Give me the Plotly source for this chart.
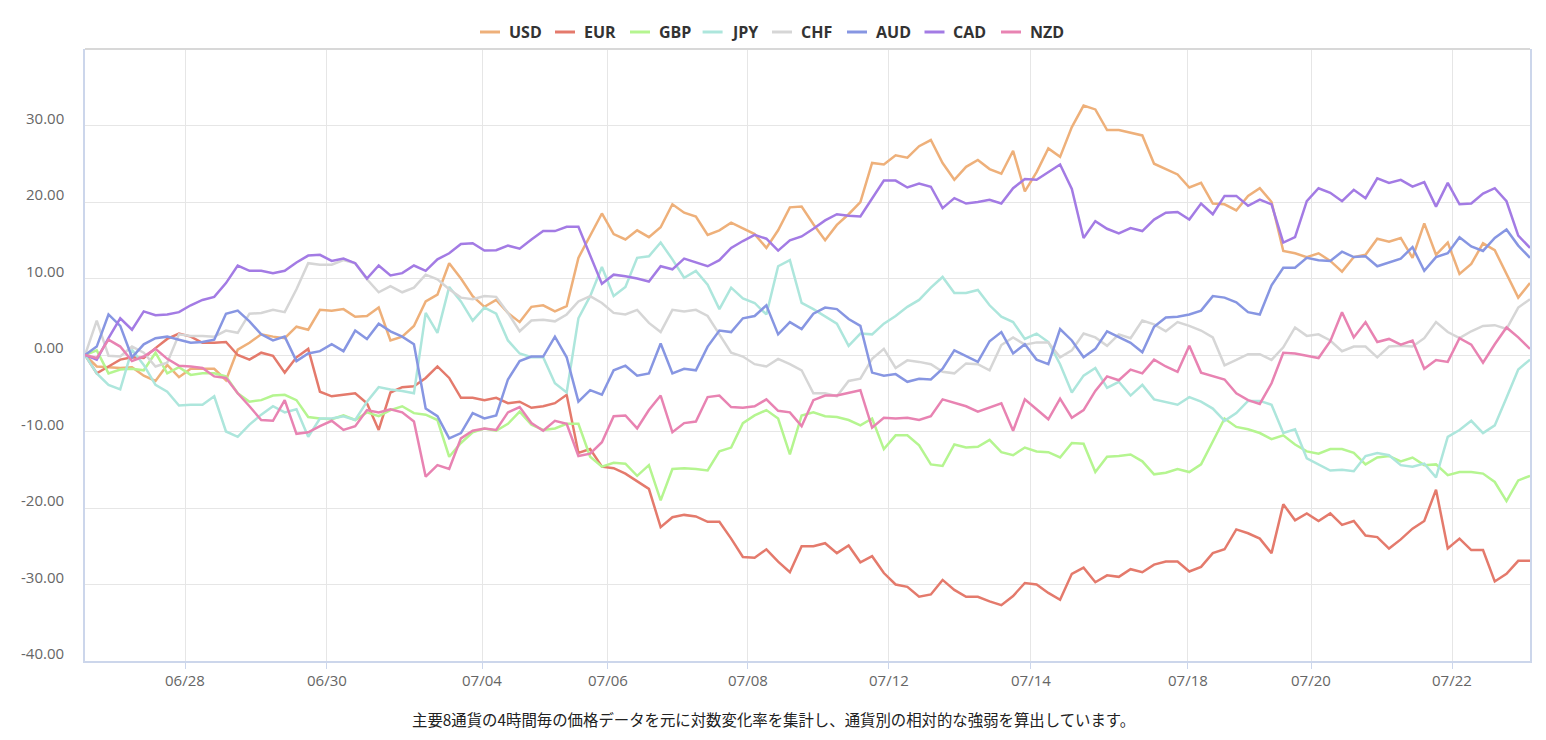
import plotly.graph_objects as go

# ---------------- data (4-hourly currency strength index) ----------------
currencies = ["USD", "EUR", "GBP", "JPY", "CHF", "AUD", "CAD", "NZD"]
colors = ["#EEB07A", "#E47A6C", "#B5F590", "#ADE6DC", "#D6D6D6", "#8796E2", "#A37BE4", "#E883B2"]

usd = [0, -1.5, -1.6, -1.7, -1.6, -2.7, -3.4, -1.3, -2.9, -1.8, -1.8, -1.8, -3.3, 0.7, 1.6, 2.7, 2.4, 2.2, 3.7, 3.3,
       5.9, 5.8, 6.0, 5.0, 5.1, 6.2, 1.9, 2.4, 3.8, 7.0, 7.9, 12.0, 10.0, 7.7, 6.3, 7.2, 5.5, 4.3, 6.3, 6.5,
       5.7, 6.4, 12.7, 15.5, 18.5, 15.8, 15.1, 16.3, 15.4, 16.7, 19.7, 18.6, 18.1, 15.7, 16.3, 17.3, 16.5, 15.8, 14.0, 16.3,
       19.3, 19.4, 17.1, 15.0, 17.0, 18.4, 20.0, 25.1, 24.9, 26.1, 25.8, 27.3, 28.1, 25.1, 22.9, 24.6, 25.5, 24.3, 23.7, 26.7,
       21.4, 23.9, 27.0, 25.9, 29.8, 32.6, 32.1, 29.4, 29.4, 29.0, 28.7, 25.0, 24.3, 23.6, 21.9, 22.5, 19.8, 19.7, 18.9, 20.8,
       21.8, 20.0, 13.6, 13.3, 12.8, 13.3, 12.3, 10.9, 12.8, 13.1, 15.2, 14.8, 15.3, 12.7, 17.2, 13.1, 14.7, 10.6, 11.9, 14.6,
       13.7, 10.6, 7.5, 9.4]
eur = [0, -2.4, -1.5, -0.6, -0.3, -0.4, 0.9, 2.1, 2.8, 2.4, 1.6, 1.6, 1.7, 0.0, -0.6, 0.3, -0.1, -2.3, -0.3, 0.8,
       -4.8, -5.4, -5.2, -5.0, -6.3, -9.8, -4.9, -4.2, -4.1, -3.0, -1.5, -3.0, -5.6, -5.6, -5.9, -5.6, -6.3, -6.1, -6.9, -6.7,
       -6.3, -5.2, -12.8, -12.3, -14.6, -14.8, -15.5, -16.5, -17.5, -22.5, -21.2, -20.9, -21.1, -21.8, -21.8, -24.0, -26.4, -26.5, -25.4, -27.0,
       -28.4, -25.0, -25.0, -24.6, -25.9, -24.9, -27.1, -26.3, -28.5, -30.0, -30.3, -31.6, -31.3, -29.4, -30.7, -31.6, -31.6, -32.2, -32.7, -31.5,
       -29.8, -30.0, -31.1, -32.0, -28.6, -27.8, -29.7, -28.8, -29.0, -28.0, -28.4, -27.4, -27.0, -27.0, -28.3, -27.7, -25.9, -25.4, -22.8, -23.3,
       -24.0, -25.9, -19.5, -21.6, -20.7, -21.7, -20.7, -22.2, -21.7, -23.6, -23.8, -25.3, -24.1, -22.7, -21.7, -17.6, -25.3, -24.0, -25.5, -25.5,
       -29.6, -28.6, -26.9, -26.9]
gbp = [0, 0.6, -2.4, -1.9, -1.8, -2.0, 0.3, -2.4, -1.6, -2.6, -2.4, -2.4, -2.8, -5.0, -6.1, -5.9, -5.3, -5.2, -5.9, -8.1,
       -8.3, -8.4, -7.9, -8.5, -7.5, -8.0, -7.2, -6.7, -7.6, -7.8, -8.5, -13.3, -11.5, -10.1, -9.6, -9.9, -9.0, -7.4, -9.1, -9.8,
       -9.6, -9.0, -9.0, -13.3, -14.6, -14.1, -14.2, -15.8, -14.4, -19.0, -14.9, -14.8, -14.9, -15.1, -12.6, -12.1, -8.9, -7.9, -7.2, -8.3,
       -13.0, -7.9, -7.5, -8.0, -8.1, -8.5, -9.2, -8.3, -12.3, -10.5, -10.5, -11.8, -14.3, -14.5, -11.7, -12.1, -12.0, -11.1, -12.7, -13.1,
       -12.1, -12.6, -12.7, -13.4, -11.5, -11.6, -15.3, -13.3, -13.2, -13.0, -13.9, -15.6, -15.4, -14.9, -15.3, -14.3, -11.3, -8.3, -9.4, -9.7,
       -10.2, -11.0, -10.5, -11.7, -12.6, -12.9, -12.3, -12.3, -12.8, -14.3, -13.4, -13.2, -13.9, -13.4, -14.4, -14.3, -15.7, -15.3, -15.3, -15.5,
       -16.6, -19.1, -16.4, -15.8]
jpy = [0, -2.4, -3.9, -4.5, 0.7, -1.3, -3.9, -4.8, -6.6, -6.5, -6.5, -5.4, -10.0, -10.7, -9.1, -7.8, -6.7, -7.5, -7.1, -10.7,
       -8.3, -8.3, -8.0, -8.5, -6.1, -4.2, -4.5, -4.7, -5.0, 5.5, 2.9, 8.9, 7.0, 4.5, 6.2, 5.4, 1.9, 0.2, -0.3, -0.3,
       -3.7, -4.9, 4.8, 7.7, 11.5, 7.7, 8.9, 12.7, 12.9, 14.7, 12.5, 10.1, 11.0, 9.2, 6.0, 8.8, 7.4, 6.8, 5.3, 11.6,
       12.4, 6.8, 6.0, 5.1, 4.1, 1.2, 2.8, 2.7, 4.1, 5.1, 6.3, 7.2, 8.8, 10.2, 8.1, 8.1, 8.5, 6.5, 5.0, 4.3,
       2.1, 2.8, 1.7, -1.2, -4.9, -2.7, -1.7, -4.3, -3.5, -5.3, -3.9, -5.8, -6.1, -6.5, -5.5, -6.1, -7.0, -8.6, -7.6, -6.0,
       -6.0, -6.5, -10.2, -9.7, -13.5, -14.3, -15.1, -15.0, -15.2, -13.2, -12.8, -13.1, -14.4, -14.6, -14.2, -16.0, -10.7, -9.8, -8.6, -10.2,
       -9.2, -5.6, -1.9, -0.6]
chf = [0, 4.5, -0.1, -0.2, 1.1, 0.3, -1.5, -1.0, 2.7, 2.5, 2.5, 2.4, 3.2, 2.9, 5.4, 5.5, 5.9, 5.6, 8.6, 12.0,
       11.8, 11.8, 12.4, 12.0, 9.9, 8.2, 9.0, 8.2, 8.8, 10.5, 9.9, 8.6, 7.5, 7.3, 7.7, 7.6, 5.5, 3.1, 4.5, 4.6,
       4.4, 5.3, 7.0, 7.7, 6.8, 5.5, 5.3, 5.9, 4.2, 3.0, 5.9, 5.7, 5.9, 5.1, 2.7, 0.3, -0.2, -1.2, -1.5, -0.5,
       -1.2, -2.0, -5.0, -5.0, -5.4, -3.4, -3.1, -0.5, 0.8, -1.7, -0.7, -0.9, -1.2, -2.2, -2.4, -1.1, -1.2, -2.0, 1.3, 2.3,
       1.35, 1.65, 1.65, -0.3, 0.6, 2.8, 2.3, 1.2, 2.7, 2.2, 4.5, 4.0, 3.1, 4.3, 3.8, 3.2, 2.3, -1.35, -0.65, 0.1,
       0.1, -0.65, 1.0, 3.6, 2.5, 2.7, 1.9, 0.5, 1.1, 1.1, -0.3, 1.1, 1.2, 1.1, 2.2, 4.3, 3.0, 2.2, 3.1, 3.8,
       3.9, 3.4, 6.2, 7.3]
aud = [0, 1.1, 5.3, 3.8, -0.3, 1.4, 2.2, 2.4, 2.0, 1.6, 1.7, 2.0, 5.4, 5.8, 4.4, 2.7, 1.9, 2.4, -0.8, 0.2,
       0.5, 1.4, 0.5, 3.2, 2.1, 4.1, 3.1, 2.4, 1.4, -7.0, -8.0, -10.9, -10.2, -7.6, -8.3, -7.9, -3.2, -0.8, -0.2, -0.2,
       2.4, -0.3, -6.1, -4.6, -5.2, -2.0, -1.4, -2.7, -2.4, 1.5, -2.4, -1.8, -2.0, 1.1, 3.2, 3.0, 4.8, 5.1, 6.5, 2.7,
       4.3, 3.4, 5.4, 6.2, 6.0, 4.7, 3.8, -2.3, -2.7, -2.5, -3.5, -3.1, -3.2, -1.8, 0.6, -0.1, -0.9, 1.8, 3.0, 0.2,
       1.4, -0.6, -1.2, 3.4, 1.9, -0.3, 0.8, 3.1, 2.3, 1.6, 0.35, 3.7, 4.9, 5.0, 5.3, 5.8, 7.7, 7.5, 6.9, 5.6,
       5.3, 9.1, 11.4, 11.4, 12.7, 12.4, 12.3, 13.5, 12.8, 12.9, 11.6, 12.1, 12.6, 14.1, 11.0, 12.8, 13.3, 15.4, 14.2, 13.6,
       15.3, 16.4, 14.3, 12.7]
cad = [0, -0.6, 2.2, 4.8, 3.3, 5.7, 5.2, 5.3, 5.6, 6.5, 7.2, 7.6, 9.4, 11.7, 11.0, 11.0, 10.7, 11.0, 12.1, 13.0,
       13.1, 12.3, 12.6, 12.0, 10.0, 11.7, 10.4, 10.7, 11.7, 11.0, 12.5, 13.3, 14.5, 14.6, 13.65, 13.7, 14.3, 13.9, 15.1, 16.2,
       16.2, 16.75, 16.75, 13.0, 9.3, 10.5, 10.3, 10.0, 9.6, 11.6, 11.2, 12.6, 12.1, 11.6, 12.4, 14.0, 14.9, 15.7, 15.2, 13.65,
       15.0, 15.5, 16.5, 17.6, 18.4, 18.2, 18.1, 20.4, 22.8, 22.8, 21.9, 22.4, 22.0, 19.2, 20.5, 19.8, 20.0, 20.3, 19.8, 21.8,
       23.0, 22.9, 23.9, 24.9, 21.7, 15.3, 17.5, 16.5, 15.9, 16.6, 16.2, 17.7, 18.6, 18.7, 17.7, 19.8, 18.4, 20.8, 20.8, 19.5,
       20.3, 19.7, 14.7, 15.4, 20.1, 21.8, 21.2, 20.1, 21.6, 20.5, 23.1, 22.5, 22.9, 22.0, 22.6, 19.4, 22.5, 19.7, 19.8, 21.1,
       21.8, 20.1, 15.6, 14.0]
nzd = [0, -0.4, 2.0, 1.1, -0.8, -0.2, 0.8, -0.5, -1.4, -1.5, -1.7, -2.8, -3.0, -5.0, -6.7, -8.5, -8.6, -5.9, -10.3, -10.1,
       -9.3, -8.6, -9.8, -9.3, -7.2, -7.5, -7.1, -7.5, -8.7, -15.9, -14.4, -14.9, -10.9, -9.9, -9.6, -9.8, -7.5, -6.8, -8.9, -9.9,
       -8.6, -9.0, -13.2, -12.9, -11.4, -8.0, -7.9, -9.6, -7.2, -5.3, -10.1, -8.9, -8.7, -5.5, -5.3, -6.8, -6.9, -6.7, -5.8, -7.3,
       -7.5, -9.3, -5.9, -5.3, -5.3, -4.9, -4.6, -9.5, -8.2, -8.3, -8.2, -8.5, -8.0, -5.8, -6.3, -6.7, -7.4, -6.8, -6.3, -9.9,
       -5.8, -7.1, -8.4, -5.7, -8.2, -7.2, -4.7, -2.8, -3.3, -1.9, -2.4, -0.6, -1.5, -2.2, 1.2, -2.3, -2.8, -3.2, -5.0, -5.9,
       -6.4, -3.7, 0.3, 0.2, -0.1, -0.4, 1.8, 5.6, 2.3, 4.3, 1.7, 2.1, 1.35, 1.9, -1.8, -0.65, -0.9, 2.2, 1.35, -1.0,
       1.4, 3.6, 2.3, 0.8]

series = [usd, eur, gbp, jpy, chf, aud, cad, nzd]

# x-axis date labels (category positions along the 4-hour index)
tick_labels = ["06/28", "06/30", "07/04", "07/06", "07/08", "07/12", "07/14", "07/18", "07/20", "07/22"]
tick_pos = [8.54, 20.57, 33.83, 44.49, 56.43, 68.43, 80.49, 93.85, 104.4, 116.4]

y_ticks = [-40, -30, -20, -10, 0, 10, 20, 30]

caption = "主要8通貨の4時間毎の価格データを元に対数変化率を集計し、通貨別の相対的な強弱を算出しています。"

# ---------------- figure ----------------
# The page body has an 8px default margin, so the figure is sized to fit the window.
OFF = 8
W, H = 1546 - OFF, 740 - OFF
L, R, T, B = 85 - OFF, 16, 49 - OFF, 79
plot_w = W - L - R
plot_h = H - T - B

fig = go.Figure()
for name, vals, col in zip(currencies, series, colors):
    fig.add_trace(go.Scatter(
        x=list(range(len(vals))), y=vals, name=name, mode="lines",
        line=dict(color=col, width=2.5), showlegend=False,
        hovertemplate=name + ": %{y:.2f}<extra></extra>",
    ))

# page-pixel -> paper helpers
def px_x(px):
    return (px - OFF - L) / plot_w

def px_y(py):
    return 1 + (T + OFF - py) / plot_h

# manual legend (line icon + bold label), laid out in a single centred row
legend_px = [480, 555, 630, 702.6, 772, 847, 924.5, 1001]
legend_y_px = 32
shapes = []
annotations = []
for name, col, px in zip(currencies, colors, legend_px):
    yy = px_y(legend_y_px)
    shapes.append(dict(type="line", xref="paper", yref="paper", x0=px_x(px), x1=px_x(px + 20), y0=yy, y1=yy,
                       line=dict(color=col, width=3)))
    annotations.append(dict(text="<b>" + name + "</b>", xref="paper", yref="paper",
                            x=px_x(px + 26.5), y=yy, xanchor="left", yanchor="middle",
                            showarrow=False, font=dict(family="Open Sans", size=16, color="#333333")))

# top border of plot area
shapes.append(dict(type="line", xref="paper", yref="paper", x0=0, x1=1, y0=1, y1=1,
                   line=dict(color="#d8d8d8", width=2)))

# y tick labels (sit slightly above their grid lines)
for v in y_ticks:
    annotations.append(dict(text=f"{v:.2f}", xref="paper", yref="y", x=0, y=v,
                            xanchor="right", yanchor="middle", xshift=-19, yshift=8, showarrow=False,
                            font=dict(family="Open Sans", size=15, color="#666666")))

# x tick labels
for pos, lab in zip(tick_pos, tick_labels):
    annotations.append(dict(text=lab, xref="x", yref="paper", x=pos, y=0,
                            xanchor="center", yanchor="middle", yshift=-19, showarrow=False,
                            font=dict(family="Open Sans", size=15, color="#666666")))

annotations.append(dict(text=caption, xref="paper", yref="paper",
                        x=px_x(773), y=px_y(719),
                        xanchor="center", yanchor="middle", showarrow=False,
                        font=dict(family="Noto Sans CJK JP", size=15.4, color="#222222")))

fig.update_layout(
    width=W, height=H, autosize=False,
    margin=dict(l=L, r=R, t=T, b=B, pad=0),
    paper_bgcolor="white", plot_bgcolor="white",
    font=dict(family="Open Sans", color="#666666", size=15),
    shapes=shapes, annotations=annotations,
    showlegend=False,
    hovermode="x unified",
)
fig.update_xaxes(
    range=[0, len(usd) - 1], tickmode="array", tickvals=tick_pos, ticktext=tick_labels,
    showticklabels=False,
    showgrid=True, gridcolor="#e6e6e6", gridwidth=1, zeroline=False,
    showline=True, linecolor="#ccd6eb", linewidth=1.5,
    ticks="outside", ticklen=6, tickcolor="#ccd6eb", tickwidth=1,
)
fig.update_yaxes(
    range=[-40, 40], tickmode="array", tickvals=y_ticks, ticktext=[f"{v:.2f}" for v in y_ticks],
    showticklabels=False,
    showgrid=True, gridcolor="#e6e6e6", gridwidth=1, zeroline=False,
    showline=True, linecolor="#ccd6eb", linewidth=1.5, mirror=True,
    ticks="",
)

fig.write_html("out.html")
